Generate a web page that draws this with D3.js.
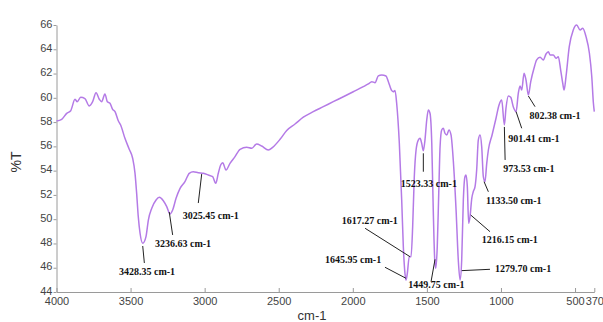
<!DOCTYPE html>
<html><head><meta charset="utf-8">
<script src="https://cdn.jsdelivr.net/npm/d3@7/dist/d3.min.js"></script>
<style>body{margin:0;background:#fff}svg{display:block}</style>
</head><body>
<svg id="c" width="603" height="322"></svg>
<script>
// Spectrum (wavenumber cm-1, %T)
const wavenumber = [4000,3965,3931,3904,3875,3860,3837,3808,3779,3756,3733,3711,3695,3673,3657,3639,3621,3605,3583,3567,3538,3509,3486,3470,3459,3448,3436,3418,3396,3380,3357,3328,3306,3279,3256,3234,3216,3193,3166,3133,3104,3077,3043,3009,2975,2946,2925,2908,2892,2878,2856,2829,2795,2761,2716,2682,2649,2615,2570,2541,2491,2446,2390,2334,2267,2199,2132,2064,1997,1929,1895,1872,1850,1828,1805,1776,1760,1737,1727,1715,1704,1686,1670,1659,1648,1641,1632,1619,1607,1596,1585,1573,1558,1546,1535,1524,1513,1501,1490,1479,1467,1457,1447,1440,1430,1420,1411,1400,1389,1378,1366,1351,1337,1322,1303,1288,1276,1265,1254,1243,1236,1227,1218,1209,1197,1187,1175,1164,1153,1141,1130,1119,1108,1096,1085,1060,1033,1013,995,977,966,950,934,917,898,883,871,860,844,831,815,799,777,759,736,714,696,680,669,647,628,613,597,583,574,561,539,512,489,466,448,426,403,387,376,370];
const transmittance = [58.09,58.23,58.72,58.94,59.88,59.68,60.04,59.93,59.33,59.68,60.42,59.88,59.68,60.32,59.68,59.55,59.05,58.86,58.11,57.76,56.66,55.76,55.02,53.78,52.13,50.20,48.84,48.01,48.56,49.93,50.90,51.58,51.80,51.52,51.03,50.43,50.76,51.72,52.54,53.09,53.78,53.91,53.83,53.78,53.64,53.50,52.96,53.78,54.46,54.65,54.05,54.60,55.15,55.76,55.92,55.84,56.20,56.03,55.70,55.92,56.58,57.31,57.84,58.40,58.86,59.27,59.68,60.09,60.50,60.92,61.14,61.33,61.25,61.80,61.88,61.80,61.33,60.59,60.50,60.60,59.55,56.25,51.58,47.73,45.54,44.99,45.54,46.91,46.91,49.38,53.50,55.70,56.52,56.66,56.25,55.64,56.52,58.17,59.00,58.73,56.25,50.76,46.64,45.95,47.73,52.13,55.97,57.35,57.49,57.08,56.94,57.35,56.94,54.88,50.76,46.64,44.99,46.64,51.58,53.50,53.64,52.68,49.66,50.20,51.72,52.26,52.68,54.05,56.52,56.94,55.97,53.50,53.09,54.60,55.70,56.94,58.34,59.41,59.82,57.76,59.16,60.15,60.04,59.27,58.86,60.37,60.97,60.64,62.02,61.47,60.23,61.33,62.43,63.12,63.34,63.12,63.61,63.80,63.53,63.53,63.26,63.39,62.29,61.20,60.64,61.74,64.21,65.59,66.00,65.59,65.73,65.04,63.67,61.74,59.55,58.86];

const xTicks = [4000,3500,3000,2500,2000,1500,1000,500,370];
const yTicks = [44,46,48,50,52,54,56,58,60,62,64,66];

// Peak annotations: label, peak point, leader end, label anchor (data units)
const peakLabels = ["3428.35 cm-1","3236.63 cm-1","3025.45 cm-1","1617.27 cm-1","1645.95 cm-1","1523.33 cm-1","1449.75 cm-1","1279.70 cm-1","1216.15 cm-1","1133.50 cm-1","973.53 cm-1","901.41 cm-1","802.38 cm-1"];
const peakW   = [3418,3239,3020,1614,1641,1524,1445,1265,1204,1114,977,898,815];
const peakT   = [47.79,50.59,53.72,46.91,45.13,55.43,46.69,45.76,50.34,53.09,57.60,58.86,60.15];
const leadW   = [3407,3216,3043,1917,1783,1524,1472,1074,1074,1085,972,860,770];
const leadT   = [46.39,48.70,51.33,49.25,46.04,53.91,44.85,45.87,48.97,52.26,54.88,57.49,59.27];
const textW   = [3578,3335,3148,2075,2187,1676,1625,1040,1130,1101,984,950,808];
const textT   = [45.65,47.96,50.34,49.93,46.64,52.96,44.58,45.90,48.34,51.58,54.14,56.66,58.58];

const svg = d3.select("#c");
const x = d3.scaleLinear().domain([4000, 370]).range([56.5, 594.3]);
const y = d3.scaleLinear().domain([44, 66]).range([292, 25]);

// axes
const gx = svg.append("g").attr("transform", `translate(0,${y(44)})`)
  .call(d3.axisBottom(x).tickValues(xTicks).tickFormat(d3.format("d")).tickSizeInner(-4).tickSizeOuter(0).tickPadding(5));
const gy = svg.append("g").attr("transform", `translate(${x(4000)},0)`)
  .call(d3.axisLeft(y).tickValues(yTicks).tickSize(3).tickSizeOuter(0).tickPadding(1));
[gx, gy].forEach(g => {
  g.select(".domain").attr("stroke", "#9a9a9a");
  g.selectAll(".tick line").attr("stroke", "#9a9a9a");
  g.selectAll(".tick text").attr("fill", "#444").style("font-family", "'Liberation Sans', Arial, sans-serif").style("font-size", "11px");
});
gy.selectAll(".tick text").attr("dy", "0.2em");

// spectrum
const pts = wavenumber.map((w, i) => [w, transmittance[i]]);
svg.append("path").datum(pts)
  .attr("fill", "none").attr("stroke", "#b47ae6").attr("stroke-width", 1.5)
  .attr("stroke-linejoin", "round")
  .attr("d", d3.line().x(d => x(d[0])).y(d => y(d[1])).curve(d3.curveMonotoneX));

// annotations
const ann = svg.append("g");
peakLabels.forEach((lab, i) => {
  ann.append("line")
    .attr("x1", x(peakW[i])).attr("y1", y(peakT[i]))
    .attr("x2", x(leadW[i])).attr("y2", y(leadT[i]))
    .attr("stroke", "#222").attr("stroke-width", 1);
  ann.append("text")
    .attr("x", x(textW[i])).attr("y", y(textT[i])).attr("dy", "0.35em")
    .attr("fill", "#111").style("font-family", "'Liberation Serif', 'Times New Roman', serif")
    .style("font-size", "10px").style("font-weight", "bold")
    .text(lab);
});

// axis titles
svg.append("text").attr("transform", "translate(21,162) rotate(-90)")
  .attr("text-anchor", "middle").attr("fill", "#333")
  .style("font-family", "'Liberation Sans', Arial, sans-serif").style("font-size", "14px").text("%T");
svg.append("text").attr("x", 312).attr("y", 320).attr("text-anchor", "middle").attr("fill", "#333")
  .style("font-family", "'Liberation Sans', Arial, sans-serif").style("font-size", "13px").text("cm-1");
</script>
</body></html>
